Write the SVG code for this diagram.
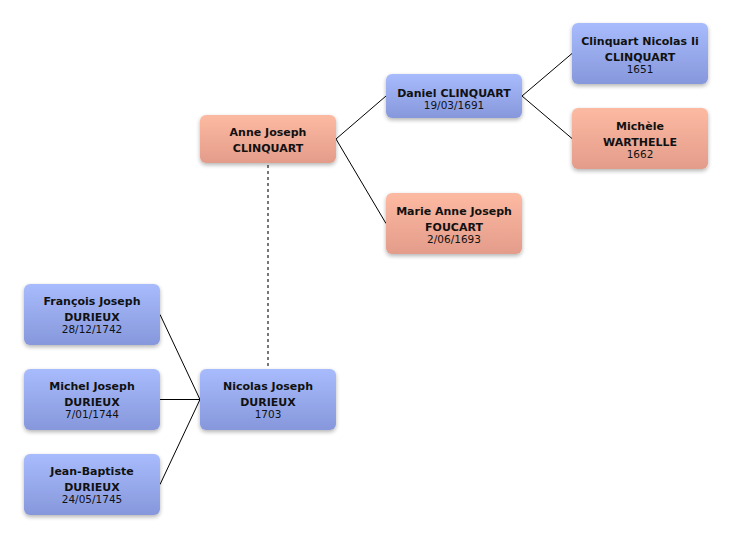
<svg xmlns="http://www.w3.org/2000/svg" width="732" height="539" viewBox="0 0 732 539">
<defs>
<linearGradient id="gb" x1="0" y1="0" x2="0" y2="1"><stop offset="0" stop-color="#a8bbfc"/><stop offset="1" stop-color="#8698db"/></linearGradient>
<linearGradient id="gs" x1="0" y1="0" x2="0" y2="1"><stop offset="0" stop-color="#fdbaa2"/><stop offset="1" stop-color="#e39c8a"/></linearGradient>
<filter id="sh" x="-10%" y="-20%" width="120%" height="150%"><feGaussianBlur in="SourceAlpha" stdDeviation="2"/><feOffset dy="1.5"/><feComponentTransfer><feFuncA type="linear" slope="0.3"/></feComponentTransfer><feMerge><feMergeNode/><feMergeNode in="SourceGraphic"/></feMerge></filter>
<style>
.b{fill:url(#gb);filter:url(#sh)}
.s{fill:url(#gs);filter:url(#sh)}
text{font-family:"DejaVu Sans",Verdana,sans-serif;fill:#111;text-anchor:middle}
.n{font-weight:bold;font-size:11px}
.d{font-size:10.5px}
.c{stroke:#000;stroke-width:1;fill:none}
.dash{stroke:#777;stroke-width:2;stroke-dasharray:3 3;fill:none}
</style>
</defs>
<rect width="732" height="539" fill="#fff"/>
<g id="connectors">
<path class="dash" d="M268,165 V369"/>
<path class="c" d="M336,139 L386,96 M336,139 L386,223.5"/>
<path class="c" d="M522,96 L572,53.5 M522,96 L572,138.5"/>
<path class="c" d="M200,399.5 L160,314.5 M200,399.5 L160,399.5 M200,399.5 L160,484.5"/>
</g>
<g id="anne">
<rect class="s" x="200" y="115" width="136" height="48" rx="6"/>
<text class="n" x="268" y="136">Anne Joseph</text>
<text class="n" x="268" y="151.5">CLINQUART</text>
</g>
<g id="daniel">
<rect class="b" x="386" y="74" width="136" height="44" rx="6"/>
<text class="n" x="454" y="96.5">Daniel CLINQUART</text>
<text class="d" x="454" y="108.5">19/03/1691</text>
</g>
<g id="marie">
<rect class="s" x="386" y="193" width="136" height="61" rx="6"/>
<text class="n" x="454" y="215">Marie Anne Joseph</text>
<text class="n" x="454" y="230.5">FOUCART</text>
<text class="d" x="454" y="243">2/06/1693</text>
</g>
<g id="clinquart">
<rect class="b" x="572" y="23" width="136" height="61" rx="6"/>
<text class="n" x="640" y="45">Clinquart Nicolas Ii</text>
<text class="n" x="640" y="60.5">CLINQUART</text>
<text class="d" x="640" y="73">1651</text>
</g>
<g id="michele">
<rect class="s" x="572" y="108" width="136" height="61" rx="6"/>
<text class="n" x="640" y="130">Michèle</text>
<text class="n" x="640" y="145.5">WARTHELLE</text>
<text class="d" x="640" y="158">1662</text>
</g>
<g id="nicolas">
<rect class="b" x="200" y="369" width="136" height="61" rx="6"/>
<text class="n" x="268" y="390">Nicolas Joseph</text>
<text class="n" x="268" y="405.5">DURIEUX</text>
<text class="d" x="268" y="418">1703</text>
</g>
<g id="francois">
<rect class="b" x="24" y="284" width="136" height="61" rx="6"/>
<text class="n" x="92" y="305">François Joseph</text>
<text class="n" x="92" y="320.5">DURIEUX</text>
<text class="d" x="92" y="333">28/12/1742</text>
</g>
<g id="michel">
<rect class="b" x="24" y="369" width="136" height="61" rx="6"/>
<text class="n" x="92" y="390">Michel Joseph</text>
<text class="n" x="92" y="405.5">DURIEUX</text>
<text class="d" x="92" y="418">7/01/1744</text>
</g>
<g id="jeanbaptiste">
<rect class="b" x="24" y="454" width="136" height="61" rx="6"/>
<text class="n" x="92" y="475">Jean-Baptiste</text>
<text class="n" x="92" y="490.5">DURIEUX</text>
<text class="d" x="92" y="503">24/05/1745</text>
</g>
</svg>
